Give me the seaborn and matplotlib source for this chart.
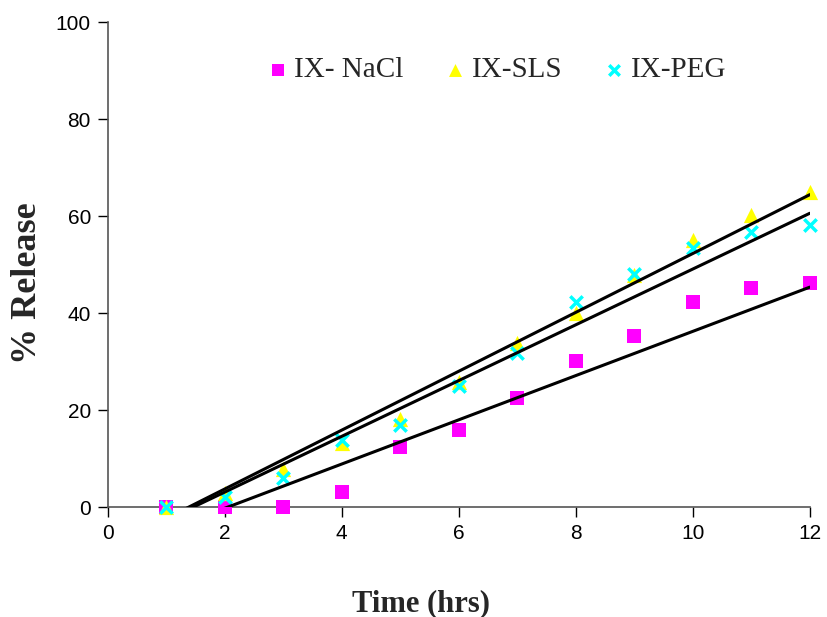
"""
% release vs time for three IX formulations, with linear trendlines
"""

import numpy as np
import pandas as pd
import matplotlib
matplotlib.use("Agg")
import matplotlib.pyplot as plt
import seaborn as sns

# data
time_hrs = [1, 2, 3, 4, 5, 6, 7, 8, 9, 10, 11, 12]
nacl = [0.0, 0.0, 0.0, 3.1, 12.5, 16.0, 22.5, 30.1, 35.2, 42.3, 45.2, 46.2]
sls = [0.0, 3.0, 7.8, 13.3, 18.2, 25.8, 33.8, 40.0, 47.8, 55.0, 60.2, 64.9]
peg = [0.0, 2.0, 6.0, 13.9, 17.0, 25.0, 31.8, 42.3, 48.0, 53.4, 56.8, 58.1]
series_names = ["IX- NaCl", "IX-SLS", "IX-PEG"]

# trendline parameters as drawn in the reference (slope, intercept)
trend_slope = [4.56, 6.07, 5.75]
trend_intercept = [-9.35, -8.4, -8.4]

df = pd.DataFrame({
    "Time": time_hrs * 3,
    "Release": nacl + sls + peg,
    "Formulation": np.repeat(series_names, len(time_hrs)),
})

sns.set_style("ticks")
plt.rcParams["font.family"] = ["Liberation Sans", "DejaVu Sans"]

fig = plt.figure(figsize=(8.28, 6.17), dpi=100)
ax = fig.add_axes([0.130, 0.178, 0.848, 0.786])

styles = {
    "IX- NaCl": dict(color="#ff00ff", marker="s", s=100),
    "IX-SLS": dict(color="#ffff00", marker="^", s=120),
    "IX-PEG": dict(color="#00ffff", marker="x", s=80),
}

for name in series_names:
    sub = df[df["Formulation"] == name]
    st = styles[name]
    kw = dict(linewidth=2.5) if st["marker"] == "x" else dict(linewidth=0)
    sns.scatterplot(data=sub, x="Time", y="Release", ax=ax, label=name,
                    color=st["color"], marker=st["marker"], s=st["s"],
                    zorder=3, clip_on=False, **kw)

# trendlines over the markers, as in the reference
t_range = np.array([time_hrs[0], time_hrs[-1]])
for name, m, b in zip(series_names, trend_slope, trend_intercept):
    fit = pd.DataFrame({"Time": t_range, "Release": m * t_range + b})
    sns.lineplot(data=fit, x="Time", y="Release", ax=ax, color="black",
                 lw=2.2, zorder=4, legend=False)

ax.set_xlim(0, 12)
ax.set_ylim(0, 100)
ax.set_xticks(range(0, 13, 2))
ax.set_yticks(range(0, 101, 20))
ax.tick_params(labelsize=15, length=7, width=1, colors="black", pad=5)
for sp in ["top", "right"]:
    ax.spines[sp].set_visible(False)
for sp in ["left", "bottom"]:
    ax.spines[sp].set_color("#555555")
    ax.spines[sp].set_linewidth(1.2)

ax.set_xlabel("Time (hrs)", fontsize=22, fontweight="bold",
              family=["Liberation Serif"])
ax.set_ylabel("% Release", fontsize=26, fontweight="bold",
              family=["Liberation Serif"])
ax.xaxis.set_label_coords(0.447, -0.170)
ax.yaxis.set_label_coords(-0.091, 0.462)

leg = ax.legend(loc="center", bbox_to_anchor=(0.553, 0.901), ncol=3,
                frameon=False, prop=dict(family="Liberation Serif", size=21),
                handlelength=0.8, handletextpad=0.15, columnspacing=1.4,
                markerscale=0.85)

fig.savefig("out.png", dpi=100)
